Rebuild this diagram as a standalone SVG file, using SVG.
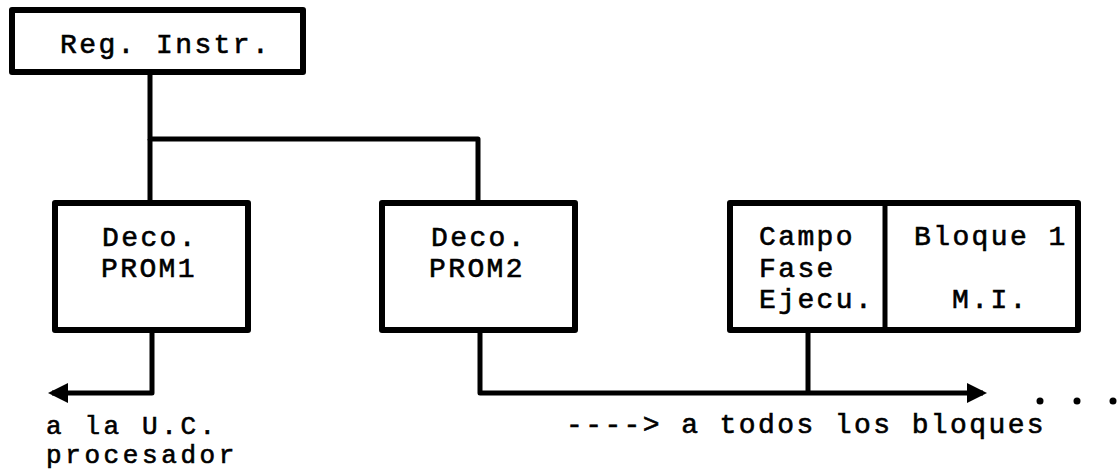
<svg xmlns="http://www.w3.org/2000/svg" width="1118" height="471" viewBox="0 0 1118 471">
<style>
.box{fill:#fff;stroke:#000;stroke-width:6;stroke-linejoin:round}
.ln{fill:none;stroke:#000;stroke-width:5;stroke-linejoin:round}
.t{font-family:"Liberation Mono","DejaVu Sans Mono",monospace;font-size:28px;letter-spacing:2.4px;fill:#000;stroke:#000;stroke-width:0.6px}
.s{font-size:26px;letter-spacing:3.6px}
</style>
<defs>
<marker id="ah" viewBox="0 0 10 10" refX="8" refY="5" markerWidth="4" markerHeight="4" orient="auto" markerUnits="strokeWidth">
<path d="M0,0 L10,5 L0,10 Z" fill="#000"/>
</marker>
</defs>
<rect width="1118" height="471" fill="#fff"/>
<g id="connectors">
<path class="ln" d="M150,72 V139 H478 V203"/>
<path class="ln" d="M150,139 V203"/>
<path class="ln" d="M152,330 V393 H52" marker-end="url(#ah)"/>
<path class="ln" d="M480,330 V393 H983" marker-end="url(#ah)"/>
<path class="ln" d="M808,330 V393"/>
</g>
<g id="reg">
<rect class="box" x="12" y="10" width="291" height="62"/>
<text class="t" x="60" y="53">Reg. Instr.</text>
</g>
<g id="prom1">
<rect class="box" x="55" y="203" width="193" height="127"/>
<text class="t" x="102" y="246">Deco.</text>
<text class="t" x="101" y="277">PROM1</text>
</g>
<g id="prom2">
<rect class="box" x="382" y="203" width="193" height="127"/>
<text class="t" x="431" y="246">Deco.</text>
<text class="t" x="429" y="277">PROM2</text>
</g>
<g id="bloque">
<rect class="box" x="730" y="203" width="348" height="127"/>
<line class="ln" x1="885" y1="203" x2="885" y2="330"/>
<text class="t" x="759" y="245">Campo</text>
<text class="t" x="759" y="277">Fase</text>
<text class="t" x="759" y="308">Ejecu.</text>
<text class="t" x="914" y="245">Bloque 1</text>
<text class="t" x="952" y="308">M.I.</text>
</g>
<g id="labels">
<text class="t s" x="46" y="434">a la U.C.</text>
<text class="t s" x="46" y="463">procesador</text>
<text class="t" x="566" y="433">----&gt; a todos los bloques</text>
<circle cx="1040" cy="401" r="3.5"/>
<circle cx="1077" cy="401" r="3.5"/>
<circle cx="1113" cy="401" r="3.5"/>
</g>
</svg>
